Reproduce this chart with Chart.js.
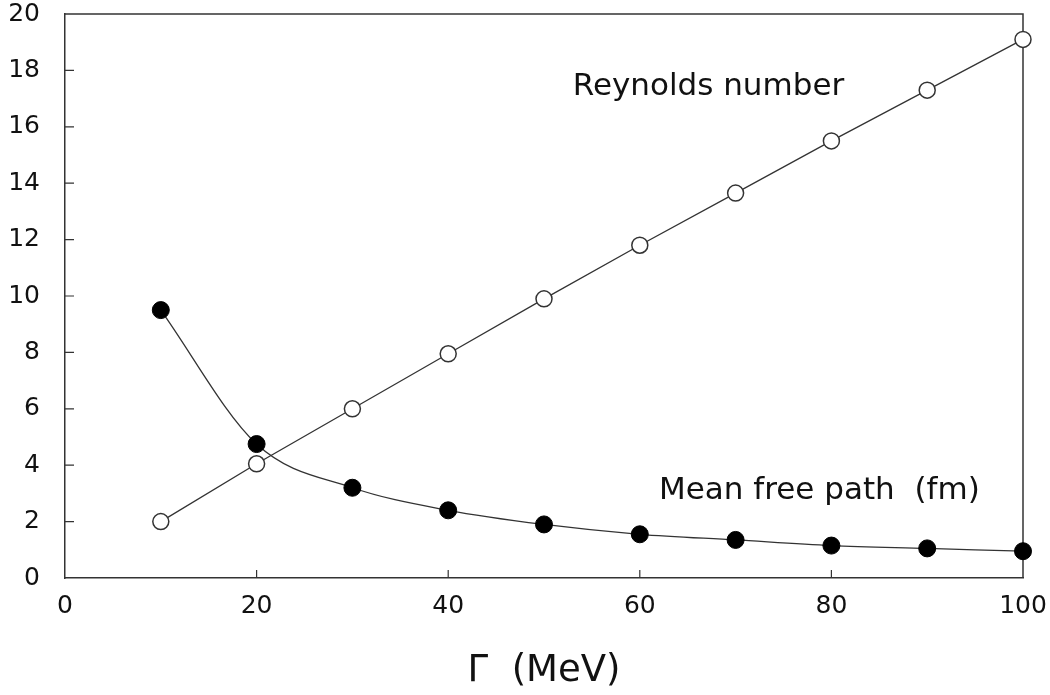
<!DOCTYPE html>
<html lang="en">
<head>
    <meta charset="UTF-8">
    <title>Reynolds number and mean free path vs Γ</title>
    <script src="https://cdn.jsdelivr.net/npm/chart.js"></script>
    <style>
        body {
            margin: 0;
            background: #fff;
        }
        #wrap {
            width: 1050px;
            height: 695px;
        }
    </style>
</head>
<body>
    <div id="wrap"><canvas id="chart" width="1050" height="695"></canvas></div>

    <script>
        // Γ (MeV)
        const gamma = [10, 20, 30, 40, 50, 60, 70, 80, 90, 100];
        // Reynolds number (open circles)
        const reynolds = [2.0, 4.05, 6.0, 7.95, 9.9, 11.8, 13.65, 15.5, 17.3, 19.1];
        // Mean free path in fm (filled circles)
        const meanFreePath = [9.5, 4.75, 3.2, 2.4, 1.9, 1.55, 1.35, 1.15, 1.05, 0.95];

        const xTicks = [0, 20, 40, 60, 80, 100];
        const yTicks = [0, 2, 4, 6, 8, 10, 12, 14, 16, 18, 20];

        const FONT = '"DejaVu Sans", "Noto Sans CJK JP", sans-serif';

        // text labels placed in data coordinates
        const notes = [
            { text: 'Reynolds number', x: 53, y: 17.4 },
            { text: 'Mean free path  (fm)', x: 62, y: 3.1 }
        ];

        function toPoints(ys) {
            return gamma.map((g, i) => ({ x: g, y: ys[i] }));
        }

        // frame on top/right plus inward tick marks
        const framePlugin = {
            id: 'framePlugin',
            beforeDatasetsDraw(chart) {
                const { ctx, chartArea: a, scales } = chart;
                ctx.save();
                ctx.strokeStyle = '#333';
                ctx.lineWidth = 1.5;
                ctx.beginPath();
                ctx.moveTo(a.left, a.top);
                ctx.lineTo(a.right, a.top);
                ctx.lineTo(a.right, a.bottom);
                ctx.stroke();

                ctx.lineWidth = 1.2;
                ctx.beginPath();
                yTicks.forEach(v => {
                    if (v === 0 || v === 20) return;
                    const py = scales.y.getPixelForValue(v);
                    ctx.moveTo(a.left, py);
                    ctx.lineTo(a.left + 9, py);
                });
                xTicks.forEach(v => {
                    if (v === 0 || v === 100) return;
                    const px = scales.x.getPixelForValue(v);
                    ctx.moveTo(px, a.bottom);
                    ctx.lineTo(px, a.bottom - 8);
                });
                ctx.stroke();

                ctx.fillStyle = '#111';
                ctx.font = '31px ' + FONT;
                ctx.textBaseline = 'middle';
                ctx.textAlign = 'left';
                notes.forEach(n => {
                    ctx.fillText(n.text, scales.x.getPixelForValue(n.x), scales.y.getPixelForValue(n.y));
                });
                ctx.restore();
            }
        };

        // keep the plot box where the layout padding says, ignore label overflow
        function noLabelPadding(scale) {
            scale.paddingTop = 0;
            scale.paddingBottom = 0;
            scale.paddingLeft = 0;
            scale.paddingRight = 0;
        }

        new Chart(document.getElementById('chart'), {
            type: 'line',
            data: {
                datasets: [
                    {
                        label: 'Mean free path (fm)',
                        data: toPoints(meanFreePath),
                        borderColor: '#333',
                        borderWidth: 1.3,
                        cubicInterpolationMode: 'monotone',
                        pointRadius: 8.5,
                        pointBackgroundColor: '#000',
                        pointBorderColor: '#000',
                        pointBorderWidth: 1
                    },
                    {
                        label: 'Reynolds number',
                        data: toPoints(reynolds),
                        borderColor: '#333',
                        borderWidth: 1.3,
                        tension: 0,
                        pointRadius: 8,
                        pointBackgroundColor: '#fff',
                        pointBorderColor: '#333',
                        pointBorderWidth: 1.5
                    }
                ]
            },
            options: {
                responsive: false,
                animation: false,
                clip: false,
                layout: {
                    padding: { top: 14, right: 27, left: 0, bottom: 0 }
                },
                plugins: {
                    legend: { display: false },
                    tooltip: { enabled: false }
                },
                scales: {
                    x: {
                        type: 'linear',
                        min: 0,
                        max: 100,
                        afterFit(scale) { scale.height = 117; noLabelPadding(scale); },
                        afterBuildTicks(scale) { scale.ticks = xTicks.map(v => ({ value: v })); },
                        grid: { display: false, drawTicks: false },
                        border: { display: true, color: '#333', width: 1.5 },
                        ticks: {
                            padding: 13,
                            color: '#111',
                            font: { family: FONT, size: 25 }
                        },
                        title: {
                            display: true,
                            text: 'Γ  (MeV)',
                            color: '#111',
                            font: { family: FONT, size: 37, lineHeight: 1 },
                            padding: { top: 0, bottom: 5 }
                        }
                    },
                    y: {
                        type: 'linear',
                        min: 0,
                        max: 20,
                        afterFit(scale) { scale.width = 65; noLabelPadding(scale); },
                        afterBuildTicks(scale) { scale.ticks = yTicks.map(v => ({ value: v })); },
                        grid: { display: false, drawTicks: false },
                        border: { display: true, color: '#333', width: 1.5 },
                        ticks: {
                            padding: 25,
                            color: '#111',
                            font: { family: FONT, size: 25 }
                        }
                    }
                }
            },
            plugins: [framePlugin]
        });
    </script>
</body>
</html>
